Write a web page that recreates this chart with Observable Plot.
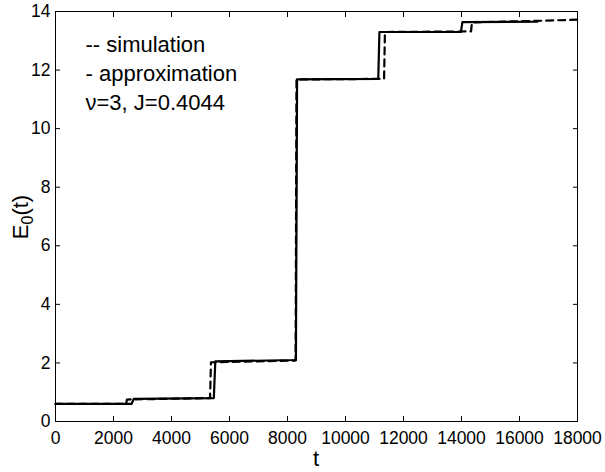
<!DOCTYPE html>
<html><head><meta charset="utf-8">
<script src="https://cdn.jsdelivr.net/npm/d3@7"></script>
<script src="https://cdn.jsdelivr.net/npm/@observablehq/plot@0.6"></script>
<style>
body{margin:0;background:#fff}
svg{font-family:"Liberation Sans",Arial,Helvetica,sans-serif}
</style>
</head><body><div id="chart"></div>
<script>
// simulation (dashed)
const simT = [0, 2440, 2460, 5330, 5360, 8280, 8310, 11330, 11360, 14330, 14360, 16600, 18000];
const simE = [0.6, 0.6, 0.75, 0.8, 2.02, 2.08, 11.68, 11.7, 13.3, 13.32, 13.63, 13.68, 13.72];
// approximation (solid)
const apxT = [0, 2620, 2700, 5460, 5510, 8290, 8330, 11130, 11170, 13980, 14030, 16620];
const apxE = [0.6, 0.6, 0.77, 0.8, 2.05, 2.1, 11.68, 11.7, 13.3, 13.3, 13.64, 13.65];

const xTicks = [0, 2000, 4000, 6000, 8000, 10000, 12000, 14000, 16000, 18000];
const yTicks = [0, 2, 4, 6, 8, 10, 12, 14];
const legendLines = ["-- simulation", "- approximation", "\u03bd=3, J=0.4044"];
const xLabel = "t";

const sim = simT.map((t, i) => ({t, e: simE[i]}));
const apx = apxT.map((t, i) => ({t, e: apxE[i]}));

const chart = Plot.plot({
  width: 605, height: 472,
  marginLeft: 55, marginRight: 28, marginTop: 11, marginBottom: 51,
  style: {fontFamily: '"Liberation Sans",Arial,sans-serif', fontSize: "17.5px", color: "black", background: "white"},
  x: {domain: [0, 18000]},
  y: {domain: [0, 14]},
  marks: [
    Plot.line(apx, {x: "t", y: "e", stroke: "black", strokeWidth: 2.2, strokeLinejoin: "round"}),
    Plot.line(sim, {x: "t", y: "e", stroke: "black", strokeWidth: 2.2, strokeDasharray: "7,5"}),
    Plot.frame({stroke: "black", strokeWidth: 1}),
    Plot.axisX(xTicks, {anchor: "bottom", tickSize: -5, tickPadding: 15, fontSize: 17.5, tickFormat: d => String(d), label: null}),
    Plot.axisX(xTicks, {anchor: "top", tickSize: -5, text: null, label: null}),
    Plot.axisY(yTicks, {anchor: "left", tickSize: -5, tickPadding: 10, fontSize: 17.5, tickFormat: d => String(d), label: null}),
    Plot.axisY(yTicks, {anchor: "right", tickSize: -5, text: null, label: null}),
    Plot.text([legendLines.join("\n")], {frameAnchor: "top-left", dx: 30, dy: 20, textAnchor: "start", lineAnchor: "top", fontSize: 22, lineHeight: 1.32})
  ]
});
document.getElementById("chart").appendChild(chart);

const svg = d3.select(chart);
// x-axis label
svg.append("text")
  .attr("x", 316).attr("y", 466)
  .attr("text-anchor", "middle")
  .attr("font-size", 22)
  .attr("fill", "black")
  .text(xLabel);
// y-axis label with subscript
const yl = svg.append("text")
  .attr("transform", "translate(28,217) rotate(-90)")
  .attr("text-anchor", "middle")
  .attr("font-size", 22)
  .attr("fill", "black");
yl.append("tspan").text("E");
yl.append("tspan").attr("font-size", 16).attr("dy", 5).text("0");
yl.append("tspan").attr("dy", -5).text("(t)");
</script>
</body></html>
